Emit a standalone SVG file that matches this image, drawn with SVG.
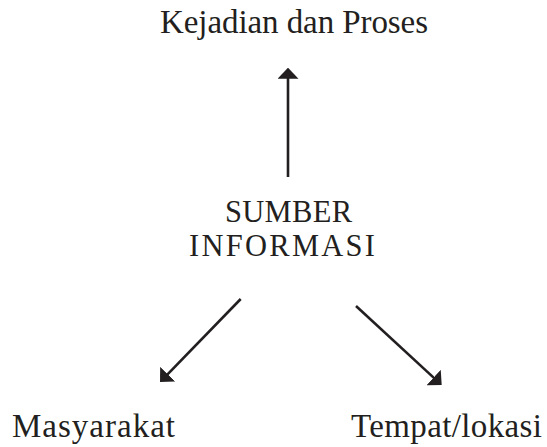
<svg xmlns="http://www.w3.org/2000/svg" width="547" height="447" viewBox="0 0 547 447">
<style>
.t{font-family:"Liberation Serif","Times New Roman",serif;font-size:33px;fill:#231f20}
.s{font-size:30.5px}
.c{stroke:#231f20;stroke-width:2.6;fill:none}
</style>
<defs>
<marker id="ah" markerUnits="userSpaceOnUse" markerWidth="11" markerHeight="21" viewBox="0 0 11 21" refX="3" refY="10.5" orient="auto">
<path d="M0,0 L11,10.5 L0,21 Z" fill="#231f20"/>
</marker>
</defs>
<rect width="547" height="447" fill="#fff"/>
<g id="connectors">
<line class="c" x1="288" y1="177" x2="288" y2="75.7" marker-end="url(#ah)"/>
<line class="c" x1="240.7" y1="299" x2="165.6" y2="376.3" marker-end="url(#ah)"/>
<line class="c" x1="356" y1="306" x2="435.8" y2="379.6" marker-end="url(#ah)"/>
</g>
<g id="kejadian"><text class="t" x="160" y="33" textLength="268" lengthAdjust="spacing">Kejadian dan Proses</text></g>
<g id="sumber">
<text class="t s" x="225" y="222" textLength="127" lengthAdjust="spacing">SUMBER</text>
<text class="t s" x="189" y="256" textLength="186" lengthAdjust="spacing">INFORMASI</text>
</g>
<g id="masyarakat"><text class="t" x="12" y="437" textLength="163" lengthAdjust="spacing">Masyarakat</text></g>
<g id="tempat"><text class="t" x="351" y="437" textLength="191" lengthAdjust="spacing">Tempat/lokasi</text></g>
</svg>
